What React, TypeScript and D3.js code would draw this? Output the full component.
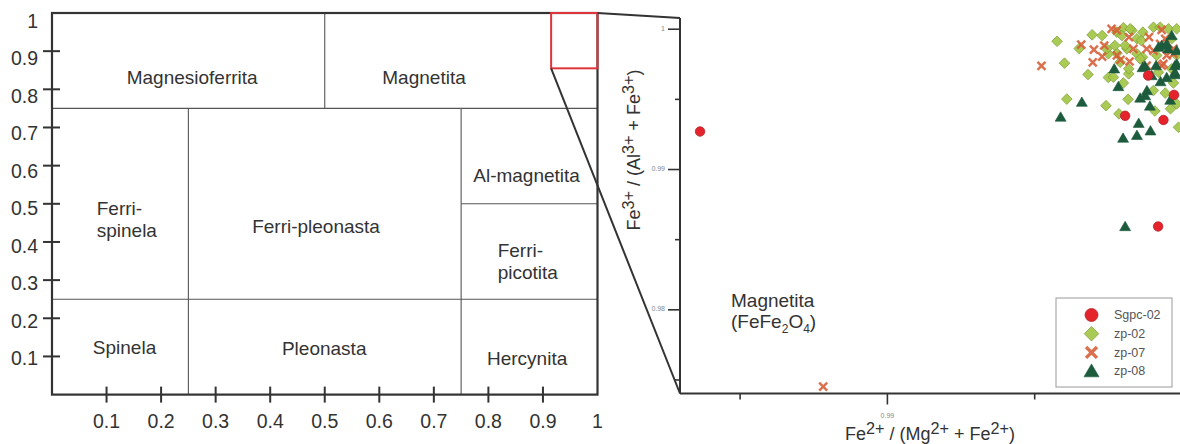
import React from "react";
import * as d3 from "d3";

// ---- Left panel: classification fields (Fe2+/(Mg+Fe2+) vs Fe3+/(Al+Fe3+)) ----
const leftXTicks = [0.1, 0.2, 0.3, 0.4, 0.5, 0.6, 0.7, 0.8, 0.9];
const leftXLabels = ["0.1", "0.2", "0.3", "0.4", "0.5", "0.6", "0.7", "0.8", "0.9", "1"];
const leftYTicks = [0.1, 0.2, 0.3, 0.4, 0.5, 0.6, 0.7, 0.8, 0.9];
const leftYLabels = ["0.1", "0.2", "0.3", "0.4", "0.5", "0.6", "0.7", "0.8", "0.9", "1"];

// field boundaries: [x1, y1, x2, y2]
const fieldLines = [
  [0, 0.75, 1, 0.75],
  [0, 0.25, 1, 0.25],
  [0.5, 0.75, 0.5, 1],
  [0.25, 0, 0.25, 0.75],
  [0.75, 0, 0.75, 0.75],
  [0.75, 0.5, 1, 0.5],
];

const fieldNames = [
  "Magnesioferrita", "Magnetita", "Ferri-|spinela", "Ferri-pleonasta",
  "Al-magnetita", "Ferri-|picotita", "Spinela", "Pleonasta", "Hercynita",
];
const fieldX = [0.257, 0.682, 0.082, 0.484, 0.87, 0.817, 0.133, 0.499, 0.871];
const fieldY = [0.832, 0.832, 0.46, 0.44, 0.575, 0.35, 0.125, 0.12, 0.095];
const fieldAnchor = ["middle", "middle", "start", "middle", "middle", "start", "middle", "middle", "middle"];

// zoom window shown on the right
const zoomBox = [0.915, 0.855, 1, 1];

// ---- Right panel: detail near the magnetite corner ----
const rightYMajor = [0.98, 0.99, 1];
const rightYMinor = [0.975, 0.985, 0.995];
const rightXMajor = [0.99];
const rightXMinor = [0.985, 0.995];

const seriesNames = ["Sgpc-02", "zp-02", "zp-07", "zp-08"];

const sgpc02X = [0.98364, 0.99919, 0.99807, 0.99937, 0.99973, 0.99885];
const sgpc02Y = [0.99271, 0.98594, 0.99383, 0.99353, 0.99532, 0.9967];

const zp02X = [
  0.99576, 0.99601, 0.99651, 0.99695, 0.99729, 0.99681, 0.9975, 0.99767, 0.99801, 0.99609,
  0.99742, 0.99786, 0.99817, 0.99908, 0.99903, 0.99943, 0.99961, 0.99971, 0.99819, 0.99819,
  0.99779, 0.99813, 0.99847, 0.9975, 0.9979, 0.99779, 0.99801, 0.9983, 0.99867, 0.99847,
  0.99903, 0.99926, 0.99954, 0.99982, 0.99965, 0.99914, 0.99866, 0.99965, 0.99796, 0.99862,
  0.99807, 0.99858, 0.9992, 0.99982, 0.99772, 0.99744, 0.99988, 0.99982, 0.99971, 0.99824,
];
const zp02Y = [
  0.99914, 0.99758, 0.99862, 0.9996, 0.99955, 0.99677, 0.99656, 0.99658, 0.99617, 0.99502,
  0.99455, 0.99397, 0.995, 0.99417, 0.99563, 0.99545, 0.99433, 0.99617, 0.99682, 0.99718,
  0.99829, 0.9986, 0.99825, 0.99825, 0.99765, 0.99979, 1.0001, 0.99991, 0.99979, 0.99932,
  1.00014, 1.00014, 1.00003, 1.00003, 0.99932, 0.99813, 0.998, 0.99718, 0.99955, 0.99919,
  0.99884, 0.99789, 0.99693, 0.99813, 0.99884, 0.9986, 0.99301, 0.99468, 0.99527, 1.00003,
];

const zp07X = [
  0.98782, 0.99523, 0.99658, 0.99701, 0.99736, 0.99697, 0.99729, 0.99822, 0.99791, 0.99761,
  0.99888, 0.9982, 0.99931, 0.99903, 0.99926, 0.99971, 0.99948, 0.9988, 0.99931, 0.99779,
  0.99835, 0.99943, 0.99971, 0.99779, 0.9988, 0.99937,
];
const zp07Y = [
  0.97453, 0.99738, 0.99891, 0.99855, 0.99884, 0.99763, 0.99805, 0.9977, 0.99782, 1.00003,
  0.99943, 0.99943, 0.99996, 0.99848, 0.99896, 0.9986, 0.99813, 0.9986, 0.99741, 0.99991,
  0.9986, 0.99932, 0.99825, 0.99813, 0.99741, 0.99753,
];

const zp08X = [
  0.99807, 0.99588, 0.9966, 0.9977, 0.99784, 0.99853, 0.998, 0.99847, 0.99893, 0.99891,
  0.99858, 0.99881, 0.99875, 0.9996, 0.99897, 0.99927, 0.99948, 0.99976, 0.99874, 0.99866,
  0.99912, 0.99976, 0.99982, 0.99931, 0.99948, 0.99982, 0.99965, 0.9992, 0.99954, 0.99976,
];
const zp08Y = [
  0.98594, 0.99374, 0.9948, 0.99718, 0.99592, 0.9933, 0.99224, 0.99244, 0.99276, 0.99453,
  0.9951, 0.99563, 0.99527, 0.99495, 0.9967, 0.99627, 0.99656, 0.99677, 0.99738, 0.99727,
  0.99741, 0.99741, 0.99753, 0.99884, 0.99896, 0.99848, 0.99955, 0.99872, 0.9986, 0.99693,
];

// axis titles as [text, isSuperscript] runs
const xTitleRuns: [string, boolean][] = [
  ["Fe", false], ["2+", true], [" / (Mg", false], ["2+", true], [" + Fe", false], ["2+", true], [")", false],
];
const yTitleRuns: [string, boolean][] = [
  ["Fe", false], ["3+", true], [" / (Al", false], ["3+", true], [" + Fe", false], ["3+", true], [")", false],
];

const FONT = "'Liberation Sans', Arial, Helvetica, sans-serif";
const INK = "#333";
const RED = "#e5232c";
const RED_EDGE = "#b3262b";
const LIME = "#a5c84b";
const LIME_EDGE = "#7f9f38";
const ORANGE = "#d6603a";
const DKGREEN = "#1c5b3c";

type Pt = { x: number; y: number };
const zip = (xs: number[], ys: number[]): Pt[] => xs.map((x, i) => ({ x, y: ys[i] }));

function Marker({ kind, x, y, s }: { kind: number; x: number; y: number; s: number }) {
  if (kind === 0) {
    return <circle cx={x} cy={y} r={s * 0.5} fill={RED} stroke={RED_EDGE} strokeWidth={0.8} />;
  }
  if (kind === 1) {
    const h = s * 0.56;
    return (
      <path
        d={`M${x},${y - h}L${x + h},${y}L${x},${y + h}L${x - h},${y}Z`}
        fill={LIME}
        stroke={LIME_EDGE}
        strokeWidth={0.8}
        opacity={0.95}
      />
    );
  }
  if (kind === 2) {
    const h = s * 0.42;
    return (
      <path
        d={`M${x - h},${y - h}L${x + h},${y + h}M${x - h},${y + h}L${x + h},${y - h}`}
        stroke={ORANGE}
        strokeWidth={s * 0.26}
        strokeLinecap="butt"
        fill="none"
        opacity={0.9}
      />
    );
  }
  const h = s * 0.55;
  return (
    <path
      d={`M${x},${y - h}L${x + h * 1.05},${y + h * 0.8}L${x - h * 1.05},${y + h * 0.8}Z`}
      fill={DKGREEN}
      stroke={DKGREEN}
      strokeWidth={0.6}
    />
  );
}

function Runs({ runs, size }: { runs: [string, boolean][]; size: number }) {
  const rise = size * 0.36;
  let up = false;
  return (
    <>
      {runs.map(([t, isSup], i) => {
        let dy = 0;
        if (isSup && !up) { dy = -rise; up = true; }
        else if (!isSup && up) { dy = rise; up = false; }
        return (
          <tspan key={i} dy={dy} fontSize={isSup ? size * 0.9 : size} xmlSpace="preserve">
            {t}
          </tspan>
        );
      })}
    </>
  );
}

export default function App() {
  // left panel scales
  const lx = d3.scaleLinear().domain([0, 1]).range([52, 597.5]);
  const ly = d3.scaleLinear().domain([0, 1]).range([394.6, 13]);
  const lyLabel = d3.scaleLinear().domain([0.1, 1]).range([358, 21]);

  // right panel scales
  const rx = d3.scaleLinear().domain([0.98296, 1]).range([680, 1182]);
  const ry = d3.scaleLinear().domain([0.974, 1.0008]).range([394, 18]);
  const rBottom = 393.5;

  const series: Pt[][] = [
    zip(sgpc02X, sgpc02Y),
    zip(zp02X, zp02Y),
    zip(zp07X, zp07Y),
    zip(zp08X, zp08Y),
  ];
  const drawOrder = [1, 2, 3, 0];

  return (
    <svg
      width={1180}
      height={444}
      style={{ position: "absolute", left: 0, top: 0, background: "#fff", fontFamily: FONT }}
    >
      <rect x={0} y={0} width={1180} height={444} fill="#fff" />

      {/* ---------- left panel ---------- */}
      {fieldLines.map((l, i) => (
        <line
          key={`f${i}`}
          x1={lx(l[0])}
          y1={ly(l[1])}
          x2={lx(l[2])}
          y2={ly(l[3])}
          stroke="#555"
          strokeWidth={1.1}
        />
      ))}
      {fieldNames.map((n, i) => {
        const parts = n.split("|");
        return (
          <text
            key={`n${i}`}
            x={lx(fieldX[i])}
            y={ly(fieldY[i])}
            fontSize={19}
            fill={INK}
            textAnchor={fieldAnchor[i] as any}
          >
            {parts.map((p, j) => (
              <tspan key={j} x={lx(fieldX[i])} dy={j === 0 ? (parts.length > 1 ? "-0.22em" : "0.35em") : "1.15em"}>
                {p}
              </tspan>
            ))}
          </text>
        );
      })}

      {/* frame */}
      <rect
        x={lx(0)}
        y={ly(1)}
        width={lx(1) - lx(0)}
        height={ly(0) - ly(1)}
        fill="none"
        stroke={INK}
        strokeWidth={2.2}
      />
      {/* zoom window */}
      <rect
        x={lx(zoomBox[0])}
        y={ly(zoomBox[3])}
        width={lx(zoomBox[2]) - lx(zoomBox[0])}
        height={ly(zoomBox[1]) - ly(zoomBox[3])}
        fill="none"
        stroke="#e0343a"
        strokeWidth={2}
      />

      {/* left axis ticks */}
      {leftYTicks.map((t) => (
        <line key={`yt${t}`} x1={lx(0) - 9} x2={lx(0) + 8} y1={ly(t)} y2={ly(t)} stroke={INK} strokeWidth={2} />
      ))}
      {leftXTicks.map((t) => (
        <line key={`xt${t}`} x1={lx(t)} x2={lx(t)} y1={ly(0) - 8} y2={ly(0) + 8} stroke={INK} strokeWidth={2} />
      ))}
      {leftYLabels.map((s) => (
        <text key={`yl${s}`} x={38} y={lyLabel(+s)} dy="0.36em" fontSize={19.5} fill={INK} textAnchor="end">
          {s}
        </text>
      ))}
      {leftXLabels.map((s) => (
        <text key={`xl${s}`} x={lx(+s)} y={428} fontSize={19.5} fill={INK} textAnchor="middle">
          {s}
        </text>
      ))}

      {/* connectors from the zoom window to the detail panel */}
      <line x1={lx(zoomBox[2])} y1={ly(zoomBox[3])} x2={rx.range()[0]} y2={ry.range()[1]} stroke={INK} strokeWidth={2} />
      <line x1={lx(zoomBox[0])} y1={ly(zoomBox[1])} x2={rx.range()[0]} y2={rBottom} stroke={INK} strokeWidth={2} />

      {/* ---------- right panel ---------- */}
      <line x1={680} x2={680} y1={ry.range()[1]} y2={rBottom} stroke={INK} strokeWidth={2} />
      <line x1={680} x2={1180} y1={rBottom} y2={rBottom} stroke={INK} strokeWidth={2} />
      {rightYMajor.map((t) => (
        <g key={`ryM${t}`}>
          <line x1={668} x2={680} y1={ry(t)} y2={ry(t)} stroke={INK} strokeWidth={1.6} />
          <text x={665} y={ry(t)} dy="0.2em" fontSize={7} fill="#888" textAnchor="end">
            {String(t)}
          </text>
        </g>
      ))}
      {rightYMinor.map((t) => (
        <line key={`rym${t}`} x1={675} x2={680} y1={ry(t)} y2={ry(t)} stroke={INK} strokeWidth={1.6} />
      ))}
      {rightXMajor.map((t) => (
        <g key={`rxM${t}`}>
          <line x1={rx(t)} x2={rx(t)} y1={rBottom} y2={rBottom + 11} stroke={INK} strokeWidth={1.6} />
          <text x={rx(t)} y={418} fontSize={7} fill="#888" textAnchor="middle">
            {String(t)}
          </text>
        </g>
      ))}
      {rightXMinor.map((t) => (
        <line key={`rxm${t}`} x1={rx(t)} x2={rx(t)} y1={rBottom} y2={rBottom + 6} stroke={INK} strokeWidth={1.6} />
      ))}

      {/* axis titles */}
      <text x={930} y={440} fontSize={18} fill={INK} textAnchor="middle">
        <Runs runs={xTitleRuns} size={18} />
      </text>
      <text transform="translate(640,150) rotate(-90)" x={0} y={0} fontSize={18} fill={INK} textAnchor="middle">
        <Runs runs={yTitleRuns} size={18} />
      </text>

      {/* field name in the detail panel */}
      <text x={731} y={307} fontSize={19} fill={INK}>
        Magnetita
      </text>
      <text x={731} y={328} fontSize={19} fill={INK}>
        (FeFe
        <tspan dy={5} fontSize={12}>2</tspan>
        <tspan dy={-5}>O</tspan>
        <tspan dy={5} fontSize={12}>4</tspan>
        <tspan dy={-5}>)</tspan>
      </text>

      {/* data */}
      <g>
        {drawOrder.map((k) =>
          series[k].map((p, i) => (
            <Marker key={`m${k}-${i}`} kind={k} x={rx(p.x)} y={ry(p.y)} s={9.5} />
          ))
        )}
      </g>

      {/* legend */}
      <rect x={1056} y={298} width={116} height={89} fill="#fff" stroke="#999" strokeWidth={1} />
      {seriesNames.map((n, i) => (
        <g key={n}>
          <Marker kind={i} x={1091.5} y={315 + i * 18.7} s={13} />
          <text x={1114} y={315 + i * 18.7} dy="0.35em" fontSize={12.5} fill="#555">
            {n}
          </text>
        </g>
      ))}
    </svg>
  );
}
